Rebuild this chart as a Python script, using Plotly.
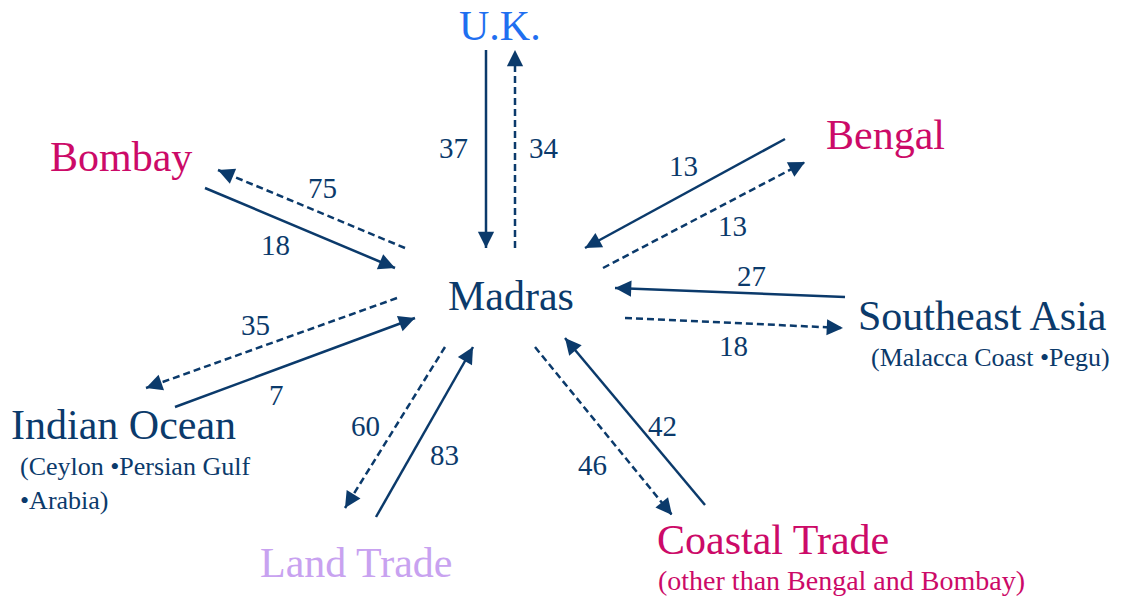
import math
import plotly.graph_objects as go

# trade flows around Madras (solid = into Madras, dashed = out of Madras)
regions = ["U.K.", "Bombay", "Bengal", "Southeast Asia", "Indian Ocean", "Land Trade", "Coastal Trade"]
inflow = [37, 18, 13, 27, 7, 83, 42]
outflow = [34, 75, 13, 18, 35, 60, 46]
subtitles = ["", "", "", "(Malacca Coast \u2022Pegu)", "(Ceylon \u2022Persian Gulf<br>\u2022Arabia)", "",
             "(other than Bengal and Bombay)"]

NAVY = "#0b3a6b"
MAG = "#cc0a68"
BLUE = "#1f6ff0"
LAV = "#c8a2f0"

# layout: name pos, name colour, inflow line (tail->head), outflow line, label positions
geo = {
    "U.K.": dict(xy=(500, 26), col=BLUE, inn=((486, 50), (486, 248)), out=((515, 248), (515, 50)),
                 lin=(453, 148), lout=(544, 148)),
    "Bombay": dict(xy=(121, 157), col=MAG, inn=((205, 188), (395, 268)), out=((405, 248), (218, 170)),
                   lin=(275, 245), lout=(322, 188)),
    "Bengal": dict(xy=(885, 135), col=MAG, inn=((785, 139), (585, 248)), out=((603, 268), (805, 162)),
                   lin=(683, 166), lout=(732, 226)),
    "Southeast Asia": dict(xy=(982, 316), col=NAVY, inn=((845, 297), (615, 288)), out=((625, 318), (843, 328)),
                           lin=(751, 276), lout=(733, 346)),
    "Indian Ocean": dict(xy=(123, 425), col=NAVY, inn=((175, 407), (415, 318)), out=((397, 298), (146, 388)),
                         lin=(276, 395), lout=(255, 325)),
    "Land Trade": dict(xy=(356, 563), col=LAV, inn=((376, 517), (473, 347)), out=((445, 347), (345, 508)),
                       lin=(444, 455), lout=(365, 426)),
    "Coastal Trade": dict(xy=(773, 540), col=MAG, inn=((705, 505), (565, 338)), out=((535, 347), (672, 515)),
                          lin=(662, 426), lout=(592, 465)),
}
sub_pos = {"Southeast Asia": (990, 357, "center"), "Indian Ocean": (18, 483, "left"),
           "Coastal Trade": (841, 580, "center")}

FONT = "Liberation Serif, Times New Roman, serif"

fig = go.Figure()
annotations = []


def arrow(p0, p1, dash):
    fig.add_trace(go.Scatter(
        x=[p0[0], p1[0]], y=[p0[1], p1[1]], mode="lines",
        line=dict(color=NAVY, width=2.5, dash="7px,4px" if dash else "solid"),
        hoverinfo="skip", showlegend=False))
    dx, dy = p1[0] - p0[0], p1[1] - p0[1]
    d = math.hypot(dx, dy)
    annotations.append(dict(x=p1[0], y=p1[1], ax=p1[0] - dx / d * 12, ay=p1[1] - dy / d * 12,
                            xref="x", yref="y", axref="x", ayref="y", text="", showarrow=True,
                            arrowhead=2, arrowsize=1.3, arrowwidth=2.5, arrowcolor=NAVY))


for name, vin, vout, sub in zip(regions, inflow, outflow, subtitles):
    g = geo[name]
    arrow(g["inn"][0], g["inn"][1], False)
    arrow(g["out"][0], g["out"][1], True)
    annotations.append(dict(x=g["xy"][0], y=g["xy"][1], text=name, showarrow=False,
                            font=dict(family=FONT, size=42, color=g["col"])))
    annotations.append(dict(x=g["lin"][0], y=g["lin"][1], text=str(vin), showarrow=False,
                            font=dict(family=FONT, size=29, color=NAVY)))
    annotations.append(dict(x=g["lout"][0], y=g["lout"][1], text=str(vout), showarrow=False,
                            font=dict(family=FONT, size=29, color=NAVY)))
    if sub:
        sx, sy, al = sub_pos[name]
        annotations.append(dict(x=sx, y=sy, text=sub, showarrow=False, align="left",
                                xanchor=al, yanchor="middle",
                                font=dict(family=FONT, size=26 if name != "Coastal Trade" else 28,
                                          color=MAG if name == "Coastal Trade" else NAVY)))

annotations.append(dict(x=511, y=296, text="Madras", showarrow=False,
                        font=dict(family=FONT, size=42, color=NAVY)))

fig.update_layout(
    width=1126, height=600,
    margin=dict(l=0, r=0, t=0, b=0),
    paper_bgcolor="white", plot_bgcolor="white",
    xaxis=dict(range=[0, 1126], visible=False, fixedrange=True),
    yaxis=dict(range=[600, 0], visible=False, fixedrange=True),
    annotations=annotations,
)

# drop the browser's default body margin so the figure sits at the page corner
fig.write_html("out.html", config={"displayModeBar": False},
               post_script="document.body.style.margin='0';")
